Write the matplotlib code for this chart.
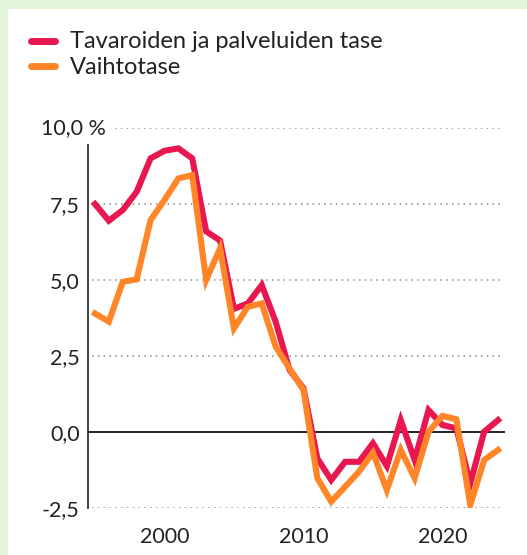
import matplotlib
matplotlib.use("Agg")
import matplotlib.pyplot as plt
from matplotlib.patches import Rectangle
from matplotlib.lines import Line2D

years = list(range(1995, 2025))
tavarat = [7.5, 6.95, 7.3, 7.9, 9.0, 9.25, 9.33, 9.0, 6.6, 6.3,
           4.05, 4.23, 4.83, 3.63, 2.04, 1.44, -0.87, -1.58, -0.98, -0.98,
           -0.37, -1.12, 0.39, -0.92, 0.72, 0.23, 0.12, -1.69, 0.01, 0.39]
vaihtotase = [3.9, 3.63, 4.94, 5.02, 6.97, 7.63, 8.34, 8.45, 5.0, 6.04,
              3.41, 4.12, 4.23, 2.81, 2.09, 1.38, -1.52, -2.29, -1.8, -1.3,
              -0.68, -1.91, -0.59, -1.52, 0.01, 0.53, 0.42, -2.4, -0.92, -0.59]
yticks = [-2.5, 0.0, 2.5, 5.0, 7.5]
ytick_labels = ["-2,5", "0,0", "2,5", "5,0", "7,5"]
top_label = "10,0 %"
xticks = [2000, 2010, 2020]
xtick_labels = ["2000", "2010", "2020"]
series_names = ["Tavaroiden ja palveluiden tase", "Vaihtotase"]

RED = "#e8174f"
ORANGE = "#ff8527"
plt.rcParams['font.family'] = ['Lato', 'DejaVu Sans']

W, H = 527, 555
fig = plt.figure(figsize=(W / 100, H / 100), dpi=100)
fig.patch.set_facecolor("#e3f5d8")
bg = fig.add_axes([8 / W, 0, 1 - 8 / W, 1 - 9 / H], zorder=-5)
bg.set_facecolor("white")
bg.set_axis_off()
bg.add_patch(Rectangle((0, 0), 1, 1, transform=bg.transAxes, facecolor="white",
                       edgecolor="none"))

ax = fig.add_axes([88 / W, 1 - 508 / H, 417 / W, 380 / H])
ax.set_facecolor("none")
ax.set_xlim(1994.5, 2024.5)
ax.set_ylim(-2.5, 10.0)

grid_kw = dict(color="#8a8a8a", lw=1.1, ls=(0, (1, 2.8)), zorder=1)
for v in yticks:
    if v != 0:
        ax.axhline(v, xmin=0.01, xmax=0.988, **grid_kw)
ax.axhline(10.0, xmin=0.065, xmax=0.988, **grid_kw)
ax.axhline(0, color="#222222", lw=1.4, zorder=2)

ax.plot(years, tavarat, color=RED, lw=4.4, solid_joinstyle="miter", zorder=3)
ax.plot(years, vaihtotase, color=ORANGE, lw=4.4, solid_joinstyle="miter", zorder=4)

for s in ["top", "right", "bottom"]:
    ax.spines[s].set_visible(False)
ax.spines["left"].set_color("#333333")
ax.spines["left"].set_linewidth(1.3)
ax.spines["left"].set_bounds(-2.5, 9.45)

ax.set_yticks(yticks)
ax.set_yticklabels(ytick_labels)
ax.set_xticks(xticks)
ax.set_xticklabels(xtick_labels)
ax.tick_params(axis="y", length=0, pad=6, labelsize=15.5, labelcolor="#222222")
ax.tick_params(axis="x", length=0, pad=14, labelsize=15.5, labelcolor="#222222")
ax.text((106 - 88) / 417, 10.0, top_label, transform=ax.get_yaxis_transform(),
        ha="right", va="center", fontsize=15.5, color="#222222")

for i, (name, col) in enumerate(zip(series_names, [RED, ORANGE])):
    yc = 1 - (41 + 25 * i) / H
    fig.add_artist(Line2D([31 / W, 55 / W], [yc, yc], transform=fig.transFigure,
                          color=col, lw=5, solid_capstyle="round"))
    fig.text(70 / W, yc - 1 / H, name, ha="left", va="center", fontsize=17,
             color="#222222")

fig.savefig("out.png", dpi=100)
